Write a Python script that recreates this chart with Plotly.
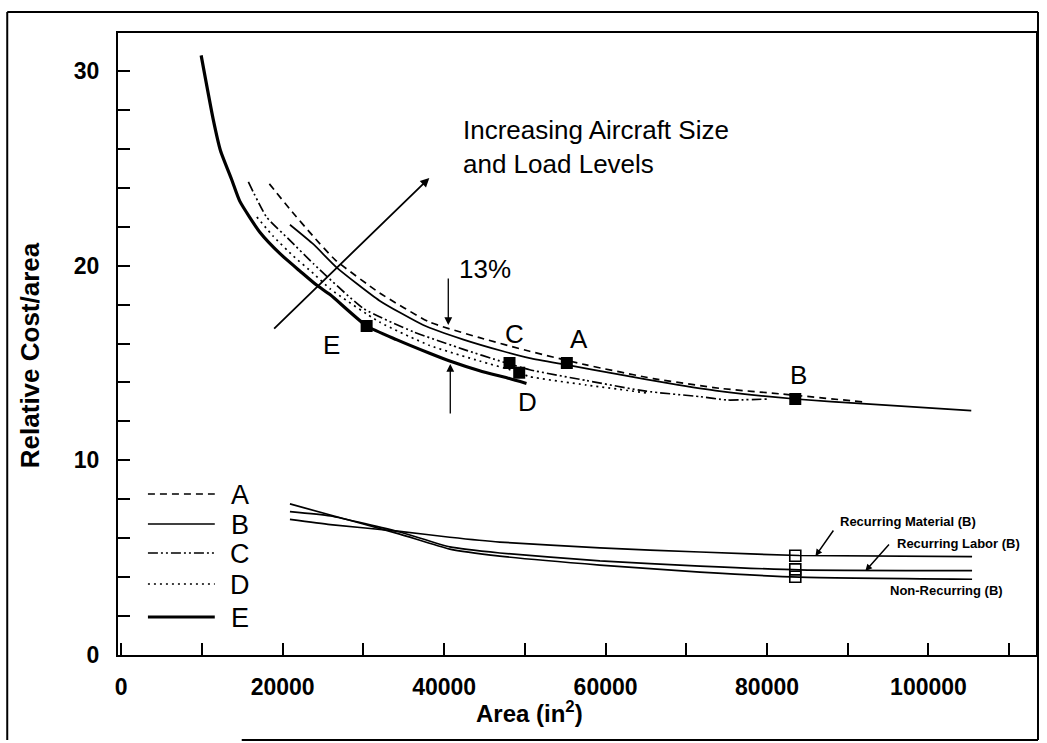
import plotly.graph_objects as go

# ---------------- data (Area in in^2, Relative Cost/area) ----------------
A_area = [18350, 20900, 23800, 26500, 32000, 38200, 44400, 50600, 57600, 65900, 74100, 82000, 91900]
A_cost = [24.2, 22.9, 21.5, 20.3, 18.6, 17.1, 16.3, 15.6, 14.9, 14.2, 13.7, 13.4, 13.0]

B_area = [20900, 23800, 26700, 32000, 37400, 42400, 47300, 50600, 55200, 61800, 67900, 74100, 83500, 92300, 105300]
B_cost = [22.1, 21.1, 19.9, 18.2, 16.95, 16.2, 15.6, 15.25, 14.9, 14.4, 13.95, 13.55, 13.15, 12.9, 12.55]

C_area = [15750, 18000, 20900, 23800, 30000, 36200, 42400, 47300, 50600, 57600, 65000, 71700, 75000, 80100]
C_cost = [24.3, 22.5, 21.3, 20.1, 17.8, 16.6, 15.7, 15.05, 14.65, 14.1, 13.55, 13.27, 13.1, 13.15]

D_area = [16800, 18850, 21300, 23800, 25900, 32000, 38200, 44400, 49000, 50600, 57600, 65500]
D_cost = [22.5, 21.5, 20.5, 19.6, 18.8, 17.1, 15.9, 15.1, 14.55, 14.3, 13.87, 13.44]

E_area = [9900, 11400, 12300, 13700, 14700, 17200, 19700, 22200, 24200, 25900, 30400, 34100, 38200, 40700, 44400, 48100, 50200]
E_cost = [30.8, 27.5, 25.9, 24.4, 23.3, 21.7, 20.6, 19.7, 19.0, 18.5, 16.9, 16.2, 15.5, 15.1, 14.6, 14.2, 13.95]

# design points (filled squares)
design_names = ["E", "C", "D", "A", "B"]
design_area = [30400, 48100, 49300, 55200, 83500]
design_cost = [16.9, 15.0, 14.5, 15.0, 13.15]

# cost breakdown for aircraft B
low_area = [20900, 25900, 34500, 40700, 46900, 59300, 71700, 84000, 105400]
material_cost = [6.97, 6.7, 6.35, 6.05, 5.8, 5.5, 5.29, 5.11, 5.05]
labor_cost = [7.36, 7.14, 6.32, 5.55, 5.24, 4.83, 4.57, 4.37, 4.33]
nonrec_cost = [7.76, 7.19, 6.21, 5.44, 5.08, 4.62, 4.26, 4.0, 3.89]
breakdown_area = [83500, 83500, 83500]
breakdown_cost = [5.1, 4.4, 4.02]

x_ticks = list(range(0, 110001, 10000))
x_ticktext = [str(v) if v % 20000 == 0 else "" for v in x_ticks]
y_ticks = list(range(0, 31, 2))
y_ticktext = [str(v) if v % 10 == 0 else "" for v in y_ticks]

# ---------------- layout geometry ----------------
W, H = 1047, 743
L, R, T, B = 118, 9, 33, 88
X0, X1 = -400, 113320
Y0, Y1 = 0, 31.95
PW, PH = W - L - R, H - T - B


def dx(px):
    return X0 + (px - L) / PW * (X1 - X0)


def dy(py):
    return Y0 + (H - B - py) / PH * (Y1 - Y0)


def ppx(px):
    return (px - L) / PW


def ppy(py):
    return (H - B - py) / PH


FONT = "Liberation Sans, Arial, Helvetica, sans-serif"
DASH_A = "7px,5px"
DASH_C = "10px,3px,2px,3px,2px,3px"
DASH_D = "2px,4px"
LW = 1.7

fig = go.Figure()


def add_curve(x, y, dash, width):
    fig.add_trace(go.Scatter(x=x, y=y, mode="lines",
                             line=dict(color="black", width=width, dash=dash,
                                       shape="spline", smoothing=0.5),
                             showlegend=False, hoverinfo="skip"))


add_curve(A_area, A_cost, DASH_A, LW)
add_curve(B_area, B_cost, "solid", LW)
add_curve(C_area, C_cost, DASH_C, LW)
add_curve(D_area, D_cost, DASH_D, LW)
add_curve(E_area, E_cost, "solid", 3.2)
add_curve(low_area, material_cost, "solid", LW)
add_curve(low_area, labor_cost, "solid", LW)
add_curve(low_area, nonrec_cost, "solid", LW)

fig.add_trace(go.Scatter(x=design_area, y=design_cost, mode="markers",
                         marker=dict(symbol="square", size=12, color="black"),
                         showlegend=False, hoverinfo="skip"))
fig.add_trace(go.Scatter(x=breakdown_area, y=breakdown_cost, mode="markers",
                         marker=dict(symbol="square-open", size=11, color="black",
                                     line=dict(width=1.6, color="black")),
                         showlegend=False, hoverinfo="skip"))

shapes = []
# outer frame
for (x0, y0, x1, y1) in [(7, 12, 7, 740), (7, 12, 1040, 12), (1040, 12, 1040, 740), (242, 740, 1040, 740)]:
    shapes.append(dict(type="line", xref="paper", yref="paper",
                       x0=ppx(x0), y0=ppy(y0), x1=ppx(x1), y1=ppy(y1),
                       line=dict(color="black", width=2)))

# manual legend
legend_items = [("A", DASH_A, LW, 494), ("B", "solid", LW, 524), ("C", DASH_C, LW, 553),
                ("D", DASH_D, LW, 584), ("E", "solid", 3.2, 617)]
annotations = []
for name, dash, w, py in legend_items:
    shapes.append(dict(type="line", xref="paper", yref="paper",
                       x0=ppx(148), x1=ppx(215), y0=ppy(py), y1=ppy(py),
                       line=dict(color="black", width=w, dash=dash)))
    annotations.append(dict(xref="paper", yref="paper", x=ppx(240), y=ppy(py + 1),
                            text=name, showarrow=False, xanchor="center", yanchor="middle",
                            font=dict(family=FONT, size=27, color="black")))


def label(text, px, py, size=26, xanchor="center", weight="normal", angle=0):
    annotations.append(dict(xref="paper", yref="paper", x=ppx(px), y=ppy(py), text=text,
                            showarrow=False, xanchor=xanchor, yanchor="middle", align="left",
                            textangle=angle,
                            font=dict(family=FONT, size=size, color="black", weight=weight)))


def arrow(tx, ty, hx, hy, head=2, width=1.5, size=1.0):
    annotations.append(dict(xref="x", yref="y", axref="x", ayref="y",
                            x=dx(hx), y=dy(hy), ax=dx(tx), ay=dy(ty), text="",
                            showarrow=True, arrowhead=head, arrowsize=size, arrowwidth=width,
                            arrowcolor="black", standoff=0, startstandoff=0))


label("Increasing Aircraft Size<br>and Load Levels", 462, 147, size=26, xanchor="left")
arrow(273, 330, 430, 178, width=1.8)
label("13%", 486, 269)
arrow(449, 277, 449, 325, width=1.3, size=1.2)
arrow(451, 415, 451, 364, width=1.3, size=1.2)
for name, px, py in [("E", 332, 345), ("C", 515, 334), ("A", 580, 339), ("B", 800, 375), ("D", 528, 402)]:
    label(name, px, py)

label("Recurring Material (B)", 910, 521, size=13, weight="bold")
label("Recurring Labor (B)", 960, 543, size=13, weight="bold")
label("Non-Recurring (B)", 948, 590, size=13, weight="bold")
arrow(836, 529, 817, 556, head=2, width=1.5, size=0.9)
arrow(892, 543, 867, 571, head=2, width=1.5, size=0.9)

# axis titles
label("Area (in<sup>2</sup>)", 530, 712, size=24, weight="bold")
label("Relative Cost/area", 30, 355, size=26, weight="bold", angle=-90)

fig.update_layout(
    width=W, height=H,
    margin=dict(l=L, r=R, t=T, b=B),
    paper_bgcolor="white", plot_bgcolor="white",
    showlegend=False,
    shapes=shapes, annotations=annotations,
    font=dict(family=FONT, color="black"),
    xaxis=dict(range=[X0, X1], showgrid=False, zeroline=False,
               showline=True, linecolor="black", linewidth=2, mirror=True,
               ticks="inside", ticklen=12, tickwidth=1.5, tickcolor="black",
               tickmode="array", tickvals=x_ticks, ticktext=x_ticktext,
               ticklabelstandoff=10,
               tickfont=dict(family=FONT, size=23, color="black", weight="bold")),
    yaxis=dict(range=[Y0, Y1], showgrid=False, zeroline=False,
               showline=True, linecolor="black", linewidth=2, mirror=True,
               ticks="inside", ticklen=12, tickwidth=1.5, tickcolor="black",
               tickmode="array", tickvals=y_ticks, ticktext=y_ticktext,
               ticklabelstandoff=12,
               tickfont=dict(family=FONT, size=23, color="black", weight="bold")),
)

fig.write_html("out.html", config={"displayModeBar": False},
               post_script="document.body.style.margin='0px';document.body.style.overflow='hidden';")
